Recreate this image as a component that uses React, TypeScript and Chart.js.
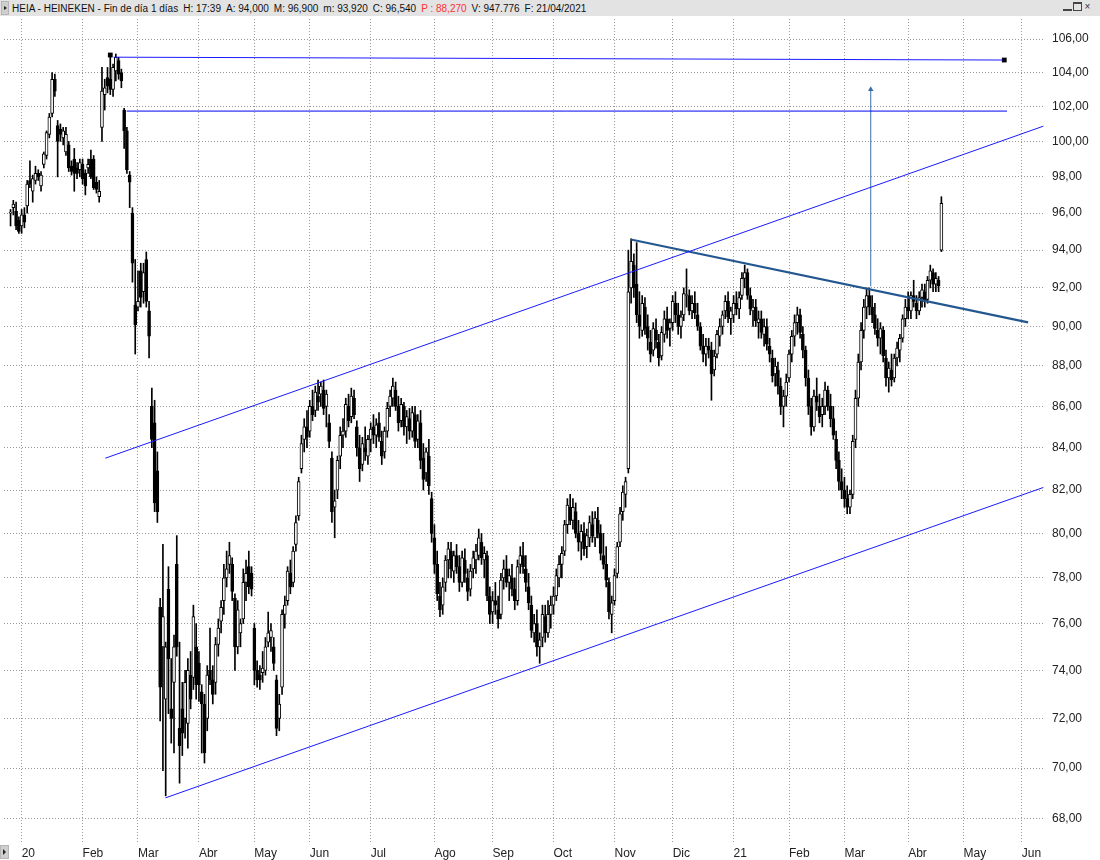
import React, { useEffect, useRef } from 'react';
import { Chart, registerables } from 'chart.js';

Chart.register(...registerables);

// Trading-day index of the first candle (0 = 2 Jan 2020)
const firstIndex = -4;

// OHLC, one value per trading day, Dec 2019 .. 21 Apr 2021
const opens = [
  96.0, 96.3, 96.1, 95.6,
  // Jan 2020
  95.3, 95.9, 96.4, 97.8, 97.2, 97.8, 98.2, 97.5, 98.7, 99.2, 100.4, 101.6, 103.6, 100.9, 100.7, 100.2, 99.4, 99.8, 98.6, 99.0, 98.5, 98.4,
  // Feb
  98.7, 98.2, 98.5, 99.0, 99.0, 97.7, 96.9, 100.8, 102.7, 103.7, 103.6, 103.0, 104.1, 104.7, 104.0, 101.8, 100.6, 98.1, 96.0, 91.1,
  // Mar
  91.0, 92.9, 91.8, 93.5, 90.8, 86.0, 85.2, 82.9, 76.7, 75.0, 72.8, 77.5, 72.4, 73.5, 78.6, 71.6, 72.4, 72.0, 71.8, 73.8, 73.7, 75.0,
  // Apr
  74.3, 73.1, 72.6, 72.0, 74.0, 73.6, 73.5, 75.1, 76.1, 77.0, 78.0, 78.6, 78.6, 77.1, 75.0, 75.6, 76.2, 77.8, 78.5, 78.2,
  // May
  75.8, 74.0, 73.8, 73.9, 74.0, 75.2, 75.4, 75.0, 73.6, 72.0, 73.3, 76.4, 77.0, 78.2, 77.8, 79.5, 80.8, 83.0, 84.4, 85.0,
  // Jun
  84.8, 86.0, 85.8, 86.5, 86.6, 86.8, 86.0, 85.2, 83.5, 81.2, 82.0, 83.6, 84.6, 84.8, 86.0, 85.5, 86.4, 85.0, 84.0, 83.2, 84.0, 83.6,
  // Jul
  84.4, 85.0, 84.6, 85.2, 84.3, 83.8, 84.8, 86.0, 86.4, 86.8, 86.0, 85.3, 86.0, 85.0, 85.4, 84.8, 85.6, 84.4, 85.2, 83.5, 82.8, 83.6, 81.6,
  // Aug
  79.8, 78.6, 77.2, 76.8, 77.8, 78.8, 79.2, 78.3, 79.0, 78.5, 77.8, 78.8, 78.0, 77.5, 78.4, 78.8, 79.0, 79.6, 78.8, 79.0, 77.2,
  // Sep
  76.5, 77.0, 76.6, 76.4, 78.0, 78.4, 77.8, 78.0, 77.5, 77.0, 78.6, 79.0, 78.4, 77.6, 76.8, 75.6, 76.0, 75.0, 75.4, 76.3, 75.6, 76.4,
  // Oct
  76.8, 77.2, 78.0, 78.6, 79.2, 80.4, 81.2, 80.6, 81.0, 80.0, 79.6, 80.0, 79.4, 79.8, 80.4, 79.8, 80.6, 80.0, 79.0, 78.6, 77.8, 76.4,
  // Nov
  77.0, 78.2, 79.6, 81.0, 81.8, 83.0, 92.0, 93.2, 92.2, 90.6, 89.8, 91.0, 90.0, 89.2, 88.8, 89.8, 89.2, 88.5, 89.6, 90.4, 89.9,
  // Dec
  90.2, 91.2, 90.6, 90.0, 90.6, 91.6, 91.6, 90.8, 91.2, 90.6, 90.0, 89.0, 88.6, 89.0, 88.8, 87.8, 88.6, 89.5, 90.0, 90.8, 91.3, 90.4,
  // Jan 2021
  90.6, 91.2, 90.9, 91.6, 92.5, 92.8, 91.6, 90.8, 91.0, 90.2, 90.4, 89.6, 90.0, 89.0, 88.4, 87.6, 87.8, 87.0, 86.0, 86.5,
  // Feb
  87.4, 88.6, 89.5, 90.2, 90.6, 89.6, 88.8, 87.4, 86.0, 85.0, 86.5, 86.0, 85.6, 86.0, 86.8, 86.0, 85.4, 84.4, 83.4, 82.4,
  // Mar
  82.0, 81.6, 81.2, 81.8, 84.4, 86.4, 88.2, 89.8, 91.0, 91.6, 91.0, 90.6, 89.8, 89.4, 89.8, 88.4, 87.4, 87.8, 87.4, 88.4, 88.8, 89.4, 90.4,
  // Apr
  91.0, 90.8, 91.6, 91.2, 90.8, 91.5, 91.8, 91.4, 92.4, 92.8, 92.2, 92.4, 94.0,
];
const highs = [
  96.2, 96.7, 96.6, 95.8,
  96.2, 96.3, 97.8, 98.9, 98.1, 98.6, 98.4, 98.3, 99.4, 100.6, 101.6, 104.0, 103.9, 101.2, 101.0, 100.8, 100.8, 100.0, 98.9, 99.6, 98.8, 99.0,
  99.0, 98.4, 99.0, 99.5, 99.2, 98.0, 97.8, 104.3, 103.6, 104.3, 105.0, 104.5, 105.1, 104.9, 104.2, 101.9, 100.8, 98.3, 96.3, 93.5,
  92.9, 93.3, 93.3, 93.9, 91.3, 86.9, 86.3, 83.8, 77.1, 79.5, 75.2, 78.5, 74.5, 75.5, 79.9, 75.2, 73.5, 74.0, 74.5, 74.8, 76.8, 76.0,
  74.8, 73.4, 73.0, 74.2, 75.8, 74.2, 75.4, 76.2, 77.0, 78.6, 79.2, 79.6, 78.9, 77.3, 77.0, 76.2, 78.4, 78.8, 79.2, 78.5,
  76.0, 74.4, 74.2, 74.8, 75.4, 76.5, 76.0, 75.4, 73.8, 73.0, 76.6, 77.2, 78.5, 78.8, 79.4, 80.8, 82.6, 84.6, 85.4, 85.8,
  86.3, 86.8, 87.0, 87.3, 87.2, 87.3, 86.8, 85.6, 83.8, 82.0, 83.6, 85.0, 85.4, 86.4, 86.6, 86.9, 86.8, 85.3, 84.6, 84.5, 85.0, 84.6,
  85.2, 85.6, 85.4, 85.7, 84.8, 85.0, 86.2, 86.8, 87.4, 87.2, 86.5, 86.4, 86.2, 85.8, 85.9, 86.0, 86.0, 85.6, 85.8, 84.2, 84.0, 84.4, 81.9,
  80.4, 79.2, 77.8, 78.0, 79.0, 79.6, 79.6, 79.2, 79.5, 79.0, 79.2, 79.3, 78.4, 78.6, 79.2, 79.5, 80.2, 80.0, 79.4, 79.2, 77.6,
  77.4, 77.8, 77.2, 78.2, 78.8, 79.0, 78.4, 78.6, 78.0, 78.8, 79.4, 79.6, 79.0, 78.2, 77.2, 76.4, 76.6, 75.6, 76.8, 76.8, 77.0, 77.2,
  77.6, 78.4, 79.0, 79.4, 80.6, 81.6, 81.8, 81.6, 81.4, 80.6, 80.4, 80.5, 80.2, 80.8, 81.0, 81.0, 81.2, 80.4, 80.0, 79.4, 78.0, 77.2,
  78.4, 79.6, 81.2, 82.2, 82.6, 94.0, 94.6, 93.8, 94.4, 91.8, 91.6, 91.5, 90.6, 89.8, 90.2, 90.4, 89.6, 90.0, 90.8, 91.0, 90.4,
  91.6, 91.8, 91.2, 90.8, 92.0, 93.0, 91.9, 91.6, 91.8, 91.2, 90.2, 89.6, 89.4, 89.4, 89.2, 88.8, 89.8, 90.4, 90.8, 91.6, 91.8, 91.0,
  91.6, 91.8, 91.8, 92.8, 93.2, 93.0, 92.0, 91.4, 91.4, 90.8, 90.8, 90.4, 90.4, 89.4, 88.8, 88.4, 88.2, 87.4, 86.8, 87.6,
  88.8, 89.8, 90.6, 91.0, 90.9, 90.0, 89.0, 87.8, 86.4, 86.8, 87.4, 86.6, 86.4, 87.2, 87.0, 86.6, 86.0, 84.8, 83.8, 83.0,
  82.6, 82.2, 82.0, 84.6, 86.8, 88.6, 90.2, 91.4, 92.0, 92.0, 91.6, 91.2, 90.4, 90.2, 90.0, 88.8, 88.2, 88.6, 88.6, 89.2, 89.6, 90.6, 91.4,
  91.8, 91.8, 92.4, 91.6, 91.8, 92.2, 92.2, 92.6, 93.2, 93.0, 92.8, 92.6, 96.9,
];
const lows = [
  95.3, 95.9, 95.1, 94.9,
  94.9, 95.2, 96.0, 97.4, 96.6, 97.6, 97.8, 97.2, 98.5, 99.0, 100.2, 101.4, 102.6, 98.0, 100.0, 99.8, 99.2, 98.3, 98.1, 97.2, 97.9, 98.0,
  97.6, 97.0, 98.2, 97.9, 97.3, 97.1, 96.6, 100.0, 101.8, 102.8, 102.7, 102.6, 103.5, 103.6, 103.1, 99.6, 98.2, 96.3, 92.3, 88.6,
  90.8, 91.0, 91.2, 91.0, 88.4, 84.0, 81.0, 80.5, 71.9, 69.9, 68.9, 72.2, 71.0, 70.6, 74.6, 69.4, 70.5, 71.2, 70.8, 72.4, 73.2, 72.8,
  72.7, 70.6, 70.2, 71.5, 73.4, 72.6, 73.0, 74.6, 75.6, 76.4, 77.6, 78.2, 77.0, 74.0, 74.7, 75.0, 76.0, 77.0, 77.3, 77.2,
  73.4, 73.3, 73.2, 73.5, 73.8, 75.0, 74.8, 74.0, 71.3, 71.5, 73.0, 75.8, 76.8, 77.3, 77.6, 79.2, 80.6, 82.8, 83.8, 84.0,
  84.5, 85.3, 85.5, 85.8, 86.0, 85.6, 85.0, 84.0, 80.5, 79.8, 81.6, 83.0, 84.0, 84.5, 85.0, 85.2, 85.4, 83.6, 82.4, 82.9, 83.4, 83.2,
  83.8, 84.2, 84.0, 84.3, 83.2, 83.5, 84.5, 85.5, 86.0, 85.8, 84.8, 85.0, 84.6, 84.2, 84.4, 84.5, 84.0, 84.0, 83.0, 82.0, 82.4, 81.8, 79.6,
  78.2, 77.0, 76.3, 76.4, 77.4, 78.0, 78.0, 77.8, 78.2, 77.4, 77.6, 77.8, 77.0, 77.2, 78.0, 78.2, 78.8, 78.6, 78.0, 77.0, 76.0,
  76.0, 76.4, 75.8, 76.2, 77.5, 77.6, 77.0, 77.2, 76.6, 76.8, 78.2, 78.2, 77.4, 76.6, 75.4, 75.2, 74.6, 74.3, 75.0, 75.2, 75.4, 75.8,
  76.4, 77.0, 77.6, 78.0, 79.0, 80.0, 80.4, 80.2, 79.8, 79.2, 78.8, 79.0, 78.9, 79.4, 79.6, 79.4, 79.8, 78.8, 78.4, 77.6, 76.2, 75.6,
  76.8, 78.0, 79.4, 80.6, 81.2, 82.8, 91.2, 91.5, 90.2, 89.4, 89.5, 89.6, 88.8, 88.2, 88.5, 88.9, 88.0, 88.3, 89.2, 89.4, 89.0,
  89.8, 90.2, 89.6, 89.4, 90.3, 91.0, 90.6, 90.4, 90.4, 89.8, 88.8, 88.2, 88.0, 88.4, 86.3, 87.5, 88.4, 89.0, 89.6, 90.4, 90.2, 89.6,
  90.2, 90.6, 90.4, 91.4, 92.0, 91.4, 90.6, 90.0, 90.0, 89.4, 89.4, 89.0, 88.8, 88.2, 87.2, 87.0, 86.6, 85.6, 85.0, 86.0,
  87.2, 88.2, 89.0, 89.6, 89.4, 88.4, 87.0, 85.6, 84.6, 84.8, 85.8, 85.2, 85.0, 85.6, 85.8, 85.0, 84.4, 83.0, 82.0, 81.6,
  81.2, 80.9, 80.9, 81.6, 84.0, 86.0, 87.8, 89.4, 90.4, 90.6, 90.2, 89.6, 89.0, 88.6, 88.2, 87.0, 86.7, 87.0, 87.2, 88.0, 88.2, 89.2, 90.0,
  90.4, 90.4, 91.0, 90.4, 90.6, 91.0, 91.0, 91.2, 92.0, 91.8, 91.8, 91.8, 93.92,
];
const closes = [
  96.0, 96.5, 95.3, 95.0,
  95.9, 95.5, 97.6, 97.6, 97.9, 98.2, 98.0, 98.1, 99.3, 100.5, 101.4, 103.6, 102.9, 100.0, 100.4, 100.6, 100.4, 98.5, 98.3, 98.2, 98.2, 98.8,
  97.9, 97.5, 98.7, 98.0, 97.4, 97.3, 97.2, 102.9, 103.1, 103.2, 103.0, 104.3, 104.9, 103.9, 103.5, 100.6, 98.4, 97.7, 93.3, 90.1,
  91.3, 91.5, 92.8, 91.3, 89.5, 84.4, 81.4, 81.0, 73.3, 76.3, 75.0, 74.5, 72.0, 75.0, 75.0, 70.9, 71.4, 73.5, 74.0, 72.8, 76.3, 73.4,
  73.4, 72.6, 70.6, 73.8, 73.6, 73.0, 75.1, 75.8, 76.7, 78.0, 78.4, 79.0, 77.4, 75.0, 76.6, 76.0, 77.8, 78.2, 77.6, 77.5,
  74.0, 73.6, 73.6, 74.1, 75.0, 75.6, 75.7, 74.3, 71.6, 72.6, 76.4, 76.8, 78.3, 77.6, 79.2, 80.5, 82.4, 84.2, 85.0, 84.5,
  86.0, 85.6, 86.7, 86.2, 87.0, 85.9, 86.6, 84.3, 81.0, 81.5, 83.4, 84.6, 84.8, 86.1, 85.3, 86.5, 85.6, 84.0, 83.0, 84.2, 83.8, 84.4,
  84.9, 84.6, 85.1, 84.5, 83.6, 84.8, 85.9, 86.5, 87.0, 86.0, 85.2, 86.1, 85.0, 85.5, 84.8, 85.7, 84.3, 85.3, 83.4, 82.5, 83.8, 82.2, 80.0,
  78.6, 77.3, 76.6, 77.6, 78.8, 79.3, 78.4, 79.0, 78.5, 77.8, 78.9, 78.2, 77.4, 78.3, 78.9, 79.2, 79.8, 78.9, 79.1, 77.2, 76.4,
  77.0, 76.8, 76.2, 77.9, 78.4, 77.8, 78.1, 77.5, 77.0, 78.5, 79.0, 78.5, 77.8, 76.9, 75.7, 76.0, 75.0, 75.3, 76.4, 75.6, 76.4, 76.8,
  77.2, 78.1, 78.6, 79.1, 80.4, 81.3, 80.6, 81.2, 80.0, 79.6, 80.1, 79.3, 79.9, 80.5, 79.9, 80.7, 80.0, 79.1, 78.6, 77.9, 76.5, 76.9,
  78.1, 79.4, 80.9, 81.9, 82.4, 91.8, 93.4, 92.0, 90.6, 90.0, 91.2, 89.9, 89.4, 88.6, 89.9, 89.3, 88.4, 89.7, 90.4, 89.8, 90.2,
  91.3, 90.6, 90.0, 90.5, 91.7, 91.6, 90.8, 91.2, 90.7, 90.0, 89.0, 88.6, 89.0, 88.8, 87.6, 88.5, 89.6, 90.0, 90.6, 91.3, 90.5, 90.8,
  91.2, 90.9, 91.5, 92.5, 92.8, 91.6, 90.9, 91.0, 90.3, 90.4, 89.7, 90.0, 89.1, 88.6, 87.5, 88.0, 87.0, 86.0, 86.5, 87.2,
  88.6, 89.5, 90.2, 90.6, 89.7, 88.8, 87.4, 86.0, 85.0, 86.5, 86.2, 85.5, 86.0, 86.8, 86.0, 85.4, 84.6, 83.4, 82.4, 82.0,
  81.6, 81.2, 81.8, 84.3, 86.4, 88.2, 89.8, 91.0, 91.6, 91.0, 90.6, 89.9, 89.4, 89.9, 88.5, 87.4, 87.9, 87.3, 88.4, 88.9, 89.4, 90.4, 91.0,
  90.8, 91.6, 91.3, 90.8, 91.5, 91.9, 91.3, 92.4, 92.9, 92.2, 92.5, 92.1, 96.54,
];

// Axis: trading-day index of each month's first session, and its label
const monthStarts = [0, 22, 42, 64, 84, 104, 126, 149, 170, 192, 214, 235, 257, 277, 297, 320, 340, 361];
const monthLabels = ['20', 'Feb', 'Mar', 'Abr', 'May', 'Jun', 'Jul', 'Ago', 'Sep', 'Oct', 'Nov', 'Dic', '21', 'Feb', 'Mar', 'Abr', 'May', 'Jun'];
const priceTicks = [68, 70, 72, 74, 76, 78, 80, 82, 84, 86, 88, 90, 92, 94, 96, 98, 100, 102, 104, 106];
const xRange = [-6.365, 369.04];
const yRange = [67.076, 107.215];

// Drawn studies (trading-day index, price)
const topLine = [{ x: 33.2, y: 104.91 }, { x: 354.3, y: 104.74 }];
const topLineAnchors = [{ x: 32.0, y: 105.04 }, { x: 354.7, y: 104.74 }];
const gapLine = [{ x: 37.9, y: 101.74 }, { x: 355.7, y: 101.74 }];
const channelUpper = [{ x: 30.2, y: 83.5 }, { x: 368.8, y: 100.87 }];
const channelLower = [{ x: 51.9, y: 68.82 }, { x: 368.8, y: 82.12 }];
const downTrend = [{ x: 219.9, y: 94.57 }, { x: 363.3, y: 90.21 }];
const targetArrow = [{ x: 306.5, y: 92.08 }, { x: 306.5, y: 103.0 }];

const FONT = "'Liberation Sans', Arial, sans-serif";

export default function App() {
  const ref = useRef<HTMLCanvasElement | null>(null);

  useEffect(() => {
    const canvas = ref.current;
    if (!canvas) return;
    const xs = closes.map((_, k) => firstIndex + k);
    const wicks = xs.map((x, k) => ({ x, y: [lows[k], highs[k]] }));
    const bodies = xs.map((x, k) => ({ x, y: [opens[k], closes[k]] }));
    const bodyColors = closes.map((c, k) => (c >= opens[k] ? '#ffffff' : '#000000'));

    const line = (data: any[], color: string, width: number, extra: any = {}) => ({
      type: 'line',
      data,
      borderColor: color,
      backgroundColor: color,
      borderWidth: width,
      pointRadius: 0,
      fill: false,
      tension: 0,
      order: 0,
      ...extra,
    });

    const chart = new Chart(canvas, {
      type: 'bar',
      data: {
        datasets: [
          line(topLine, '#1a1aff', 1) as any,
          line(gapLine, '#0000ee', 1) as any,
          line(channelUpper, '#1a1aff', 1) as any,
          line(channelLower, '#1a1aff', 1) as any,
          line(downTrend, '#24578f', 2.2) as any,
          line(targetArrow, '#3a6eaa', 1, {
            pointRadius: [0, 3.2],
            pointStyle: 'triangle',
            pointBackgroundColor: '#3a6eaa',
            pointBorderColor: '#3a6eaa',
            pointBorderWidth: 0,
          }) as any,
          {
            type: 'scatter',
            data: topLineAnchors,
            pointStyle: 'rect',
            pointRadius: 3.4,
            backgroundColor: '#000000',
            borderColor: '#000000',
            borderWidth: 0,
            order: 0,
          } as any,
          {
            type: 'bar',
            data: bodies as any,
            backgroundColor: bodyColors,
            borderColor: '#000000',
            borderWidth: 1,
            borderSkipped: false,
            barThickness: 3,
            minBarLength: 1,
            grouped: false,
            order: 1,
          } as any,
          {
            type: 'bar',
            data: wicks as any,
            backgroundColor: '#000000',
            borderWidth: 0,
            barThickness: 1,
            grouped: false,
            order: 2,
          } as any,
        ],
      },
      options: {
        responsive: false,
        animation: false,
        devicePixelRatio: 1,
        layout: { padding: { top: 19, left: 0, right: 0, bottom: 0 } },
        plugins: { legend: { display: false }, tooltip: { enabled: false } },
        scales: {
          x: {
            type: 'linear',
            min: xRange[0],
            max: xRange[1],
            bounds: 'data',
            offset: false,
            afterBuildTicks: (s: any) => {
              s.ticks = monthStarts.map((v) => ({ value: v }));
            },
            afterFit: (s: any) => {
              s.height = 17;
            },
            ticks: {
              autoSkip: false,
              maxRotation: 0,
              align: 'start',
              padding: 3,
              color: '#222222',
              font: { family: FONT, size: 12 },
              callback: (_v: any, i: number) => monthLabels[i],
            },
            grid: { color: '#9a9a9a', drawTicks: false, offset: false, lineWidth: 1 },
            border: { display: false, dash: [1, 2] },
          },
          y: {
            type: 'logarithmic',
            position: 'right',
            min: yRange[0],
            max: yRange[1],
            bounds: 'data',
            afterBuildTicks: (s: any) => {
              s.ticks = priceTicks.map((v) => ({ value: v }));
            },
            afterFit: (s: any) => {
              s.width = 56;
            },
            ticks: {
              autoSkip: false,
              padding: 8,
              color: '#222222',
              font: { family: FONT, size: 12 },
              callback: (v: any) => Number(v).toFixed(2).replace('.', ','),
            },
            grid: { color: '#9a9a9a', drawTicks: false, lineWidth: 1 },
            border: { display: false, dash: [1, 2] },
          },
        },
      } as any,
    });
    return () => chart.destroy();
  }, []);

  const field = { marginRight: 5, whiteSpace: 'pre' as const };
  return (
    <div style={{ position: 'fixed', left: 0, top: 0, width: 1100, height: 860, background: '#ffffff', overflow: 'hidden' }}>
      <canvas ref={ref} width={1100} height={860} style={{ position: 'absolute', left: 0, top: 0, width: 1100, height: 860 }} />
      <div
        style={{
          position: 'absolute', left: 0, top: 0, width: 1100, height: 16, background: '#e3e3e3',
          fontFamily: FONT, fontSize: 10, color: '#111', display: 'flex', alignItems: 'center',
        }}
      >
        <div style={{ width: 8, height: 14, marginLeft: 1, marginRight: 3, background: '#cfcfcf', border: '1px solid #b5b5b5', boxSizing: 'border-box', display: 'flex', alignItems: 'center', justifyContent: 'center' }}>
          <div style={{ width: 0, height: 0, borderTop: '2.5px solid transparent', borderBottom: '2.5px solid transparent', borderLeft: '3px solid #222' }} />
        </div>
        <span style={field}>HEIA - HEINEKEN - Fin de día 1 días</span>
        <span style={field}>H: 17:39</span>
        <span style={field}>A: 94,000</span>
        <span style={field}>M: 96,900</span>
        <span style={field}>m: 93,920</span>
        <span style={field}>C: 96,540</span>
        <span style={{ ...field, color: '#ff3030' }}>P : 88,270</span>
        <span style={field}>V: 947.776</span>
        <span style={field}>F: 21/04/2021</span>
        <div style={{ position: 'absolute', right: 8, top: 2, display: 'flex', gap: 1 }}>
          <div style={{ width: 9, height: 9, borderBottom: '2px solid #444', boxSizing: 'border-box' }} />
          <div style={{ width: 9, height: 9, border: '1px solid #444', borderTopWidth: 2, boxSizing: 'border-box' }} />
          <div style={{ width: 9, height: 9, fontSize: 10, lineHeight: '9px', textAlign: 'center', color: '#333' }}>×</div>
        </div>
      </div>
      <div style={{ position: 'absolute', left: 0, top: 845, width: 9, height: 14, background: '#cfcfcf', border: '1px solid #b5b5b5', boxSizing: 'border-box', display: 'flex', alignItems: 'center', justifyContent: 'center' }}>
        <div style={{ width: 0, height: 0, borderTop: '3px solid transparent', borderBottom: '3px solid transparent', borderLeft: '3px solid #222' }} />
      </div>
    </div>
  );
}
